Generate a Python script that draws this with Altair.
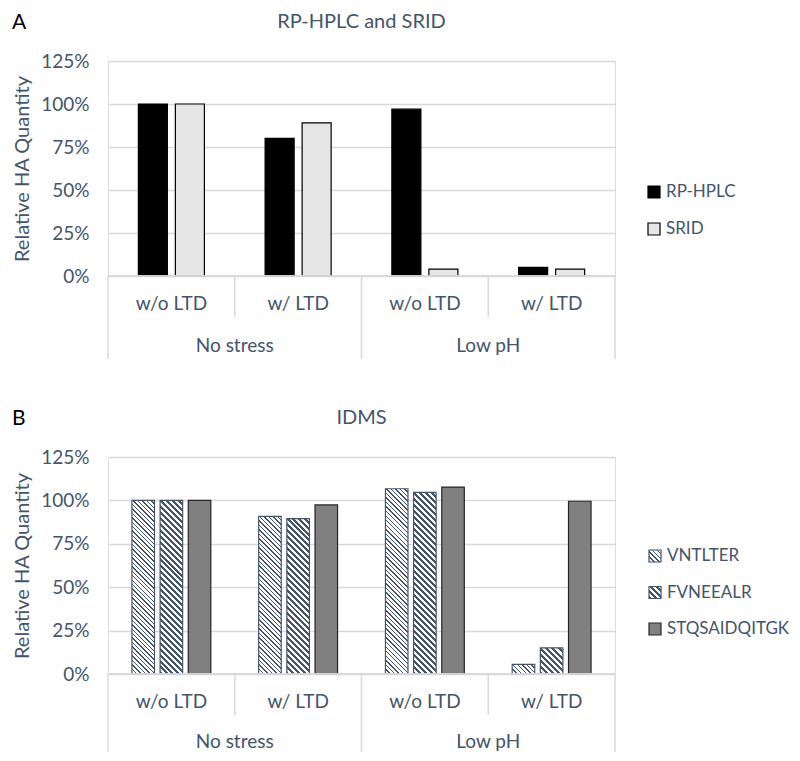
import altair as alt
import pandas as pd

# ---------------- data ----------------
groups = ["No stress", "No stress", "Low pH", "Low pH"]
conditions = ["w/o LTD", "w/ LTD", "w/o LTD", "w/ LTD"]

a_series = ["RP-HPLC", "SRID"]
a_rphplc = [1.00, 0.80, 0.97, 0.05]
a_srid = [1.00, 0.89, 0.04, 0.04]

b_series = ["VNTLTER", "FVNEEALR", "STQSAIDQITGK"]
b_vntlter = [1.00, 0.908, 1.067, 0.056]
b_fvneealr = [1.00, 0.895, 1.046, 0.151]
b_stq = [1.00, 0.974, 1.077, 0.995]

y_ticks = [0, 0.25, 0.5, 0.75, 1.0, 1.25]
y_title = "Relative HA Quantity"
titles = ["RP-HPLC and SRID", "IDMS"]
letters = ["A", "B"]

# ---------------- style ----------------
TEXT = "#44546A"
GRID = "#D9D9D9"
FONT = "Lato"
W = 507
YMAX = 1.25
SYM = 12

cats = [f"{g}|{c}" for g, c in zip(groups, conditions)]


def hatch(w, h, period, frac, color, bg="#FFFFFF"):
    """Diagonal ('\\') stripe fill built from a linear gradient (object bbox units)."""
    w = max(w, 1.0)
    h = max(h, 1.0)
    k = (w + h) / (w * w + h * h)
    n = max(1, round((w + h) / period))
    stops = []
    for i in range(n):
        a, b, c = i / n, (i + frac) / n, (i + 1) / n
        stops += [
            {"offset": a, "color": color},
            {"offset": b, "color": color},
            {"offset": b, "color": bg},
            {"offset": c, "color": bg},
        ]
    return {"gradient": "linear", "x1": 0, "y1": 1, "x2": k * w, "y2": 1 - k * h, "stops": stops}


def long_df(series, values):
    rows = []
    for s, vals in zip(series, values):
        for cat, g, c, v in zip(cats, groups, conditions, vals):
            rows.append({"cat": cat, "grp": g, "cond": c, "series": s, "value": v,
                         "key": f"{cat}|{s}"})
    return pd.DataFrame(rows)


def panel(series, values, fills, strokes, hatches, H, pin, pout, letter, title,
          leg_x, leg_y, row_step, grp_dy, long_len):
    df = long_df(series, values)
    band = W / len(cats)
    step = band / (len(series) - pin + 2 * pout)
    bw = step * (1 - pin)

    conds = []
    for _, r in df.iterrows():
        if r["series"] in hatches:
            per, frac, col = hatches[r["series"]]
            h = r["value"] / YMAX * H
            conds.append({"test": f"datum.key === '{r['key']}'",
                          "value": hatch(bw, h, per, frac, col)})

    xscale = alt.Scale(domain=cats, paddingInner=0, paddingOuter=0)

    fill_kw = dict(scale=alt.Scale(domain=series, range=fills), legend=None)
    if conds:
        fill_kw["condition"] = conds

    bars = alt.Chart(df).mark_bar(strokeWidth=1.2).encode(
        x=alt.X("cat:N", scale=xscale, sort=None, title=None, axis=None),
        xOffset=alt.XOffset("series:N", sort=None,
                            scale=alt.Scale(domain=series, paddingInner=pin, paddingOuter=pout)),
        y=alt.Y("value:Q", scale=alt.Scale(domain=[0, YMAX], nice=False),
                title=y_title,
                axis=alt.Axis(values=y_ticks, format=".0%", domain=False, ticks=False,
                              labelPadding=19, labelFont=FONT, labelFontSize=19,
                              labelColor=TEXT, gridColor=GRID, gridWidth=1.5,
                              titleFont=FONT, titleFontSize=20, titleColor=TEXT,
                              titleFontWeight="normal", titlePadding=8)),
        fill=alt.Fill("series:N", **fill_kw),
        stroke=alt.Stroke("series:N", scale=alt.Scale(domain=series, range=strokes), legend=None),
    )

    cat_df = pd.DataFrame({"cat": cats, "grp": groups, "cond": conditions,
                           "first": [True, False, True, False],
                           "last": [False, False, False, True]})

    def xr(bp):
        return alt.X("cat:N", bandPosition=bp, scale=xscale, sort=None, axis=None)

    rule_kw = dict(color=GRID, strokeWidth=1.5)
    base_line = alt.Chart(cat_df).transform_filter("datum.first").mark_rule(**rule_kw).encode(
        x=alt.value(0), x2=alt.value(W), y=alt.value(H))
    long_left = alt.Chart(cat_df).transform_filter("datum.first").mark_rule(**rule_kw).encode(
        x=xr(0), y=alt.value(H), y2=alt.value(H + long_len))
    short_left = alt.Chart(cat_df).transform_filter("!datum.first").mark_rule(**rule_kw).encode(
        x=xr(0), y=alt.value(H), y2=alt.value(H + 41))
    right_end = alt.Chart(cat_df).transform_filter("datum.last").mark_rule(**rule_kw).encode(
        x=xr(1), y=alt.value(H), y2=alt.value(H + long_len))
    cond_text = alt.Chart(cat_df).mark_text(
        font=FONT, fontSize=19, color=TEXT, baseline="middle").encode(
        x=xr(0.5), y=alt.value(H + 28), text="cond:N")
    grp_text = alt.Chart(cat_df).transform_filter("datum.first").mark_text(
        font=FONT, fontSize=19, color=TEXT, baseline="middle").encode(
        x=xr(1), y=alt.value(H + grp_dy), text="grp:N")

    lab_df = pd.DataFrame({"letter": [letter], "title": [title]})
    letter_mark = alt.Chart(lab_df).mark_text(
        font=FONT, fontSize=21, color="black", align="left", baseline="top").encode(
        x=alt.value(-96), y=alt.value(-49), text="letter:N")
    title_mark = alt.Chart(lab_df).mark_text(
        font=FONT, fontSize=20, color=TEXT, align="center", baseline="middle").encode(
        x=alt.value(W / 2), y=alt.value(-39), text="title:N")

    # legend (drawn as marks so hatched swatches can be shown)
    leg_df = pd.DataFrame({"series": series})
    legend_layers = []
    for i, (s, f, st) in enumerate(zip(series, fills, strokes)):
        sw_fill = hatch(SYM, SYM, hatches[s][0], hatches[s][1], hatches[s][2]) if s in hatches else f
        yy = leg_y + i * row_step
        sq = alt.Chart(leg_df).transform_filter(alt.datum.series == s).mark_square(
            size=SYM * SYM, fill=sw_fill, stroke=st, strokeWidth=1.2, opacity=1, filled=True
        ).encode(x=alt.value(leg_x + SYM / 2), y=alt.value(yy))
        tx = alt.Chart(leg_df).transform_filter(alt.datum.series == s).mark_text(
            font=FONT, fontSize=17, color=TEXT, align="left", baseline="middle"
        ).encode(x=alt.value(leg_x + SYM + 6), y=alt.value(yy), text="series:N")
        legend_layers += [sq, tx]

    return alt.layer(bars, base_line, long_left, short_left, right_end, cond_text, grp_text,
                     letter_mark, title_mark, *legend_layers).properties(width=W, height=H)


panel_a = panel(a_series, [a_rphplc, a_srid], ["#000000", "#E7E6E6"], ["#000000", "#000000"],
                {}, 215, 0.216, 0.82, letters[0], titles[0], 540, 131, 37, 70, 83)
panel_b = panel(b_series, [b_vntlter, b_fvneealr, b_stq], ["#C9CED6", "#8E99A8", "#808080"],
                ["#44546A", "#44546A", "#262626"],
                {"VNTLTER": (4.5, 0.32, "#44546A"), "FVNEEALR": (6.0, 0.5, "#44546A")},
                217, 0.2, 0.85, letters[1], titles[1], 541, 99, 36.5, 68, 78)

chart = alt.vconcat(panel_a, panel_b, spacing=46).resolve_scale(
    x="independent", y="independent", xOffset="independent",
    fill="independent", stroke="independent"
).properties(
    padding={"left": 3, "top": 3, "right": 0, "bottom": 0}
).configure_view(stroke=None).configure(font=FONT)

chart.save("out.html", embed_options={"renderer": "svg", "actions": False})
